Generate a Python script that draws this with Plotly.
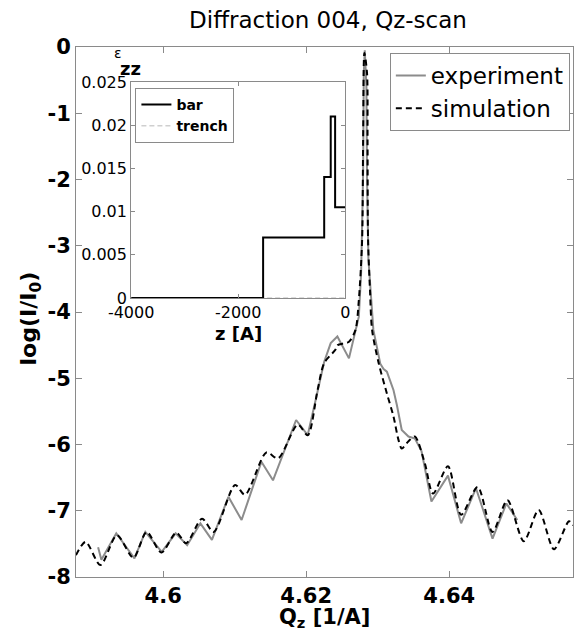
import plotly.graph_objects as go

# ---- main chart data ----
sim_q = [4.58782, 4.58916, 4.59124, 4.59354, 4.59585, 4.59769, 4.59976, 4.60184,
         4.60322, 4.60544, 4.60706, 4.61006, 4.61145, 4.61444, 4.61606, 4.61882,
         4.62021, 4.62159, 4.62252, 4.62408, 4.62436, 4.62598, 4.62689, 4.62736,
         4.62782, 4.62796, 4.62814, 4.62851, 4.62858, 4.62865, 4.62893, 4.62921,
         4.63013, 4.63128, 4.63221, 4.63290, 4.63336, 4.63430, 4.63520, 4.63658,
         4.63774, 4.63982, 4.64166, 4.64397, 4.64605, 4.64813, 4.65042, 4.65250,
         4.65464, 4.65675, 4.65744]
sim_log = [-7.67, -7.47, -7.82, -7.37, -7.71, -7.32, -7.63, -7.33,
           -7.49, -7.12, -7.32, -6.61, -6.76, -6.12, -6.21, -5.70,
           -5.86, -5.18, -4.77, -4.57, -4.50, -4.45, -4.27, -3.82,
           -2.91, -1.40, -0.09, -0.40, -1.40, -2.90, -3.70, -4.27,
           -4.77, -5.23, -5.58, -5.93, -6.06, -5.95, -5.88, -6.28,
           -6.74, -6.33, -7.06, -6.64, -7.32, -6.84, -7.46, -6.99,
           -7.58, -7.16, -7.23]

exp_q = [4.59091, 4.59137, 4.59345, 4.59599, 4.59751, 4.59981, 4.60175, 4.60336,
         4.60521, 4.60682, 4.60913, 4.61097, 4.61374, 4.61536, 4.61859, 4.62021,
         4.62159, 4.62252, 4.62343, 4.62436, 4.62598, 4.62644, 4.62736, 4.62768,
         4.62796, 4.62805, 4.62819, 4.62842, 4.62851, 4.62870, 4.62911, 4.62939,
         4.63036, 4.63082, 4.63128, 4.63221, 4.63267, 4.63336, 4.63430, 4.63520,
         4.63612, 4.63705, 4.63751, 4.63982, 4.64166, 4.64374, 4.64605, 4.64799,
         4.64951]
exp_log = [-7.55, -7.74, -7.34, -7.72, -7.32, -7.62, -7.34, -7.52,
           -7.19, -7.44, -6.79, -7.14, -6.26, -6.54, -5.63, -5.86,
           -5.20, -4.75, -4.47, -4.37, -4.70, -4.50, -4.07, -3.41,
           -1.90, -0.40, -0.05, -0.60, -2.00, -3.20, -3.90, -4.27,
           -4.78, -4.86, -4.90, -5.18, -5.40, -5.78, -5.88, -5.91,
           -6.10, -6.60, -6.86, -6.47, -7.19, -6.66, -7.42, -6.89,
           -7.14]

main_xticks = [4.6, 4.62, 4.64]
main_xticktext = ["4.6", "4.62", "4.64"]
main_yticks = [0, -1, -2, -3, -4, -5, -6, -7, -8]
main_yticktext = ["0", "-1", "-2", "-3", "-4", "-5", "-6", "-7", "-8"]

# ---- inset data ----
bar_z = [-4000, -1535, -394, -272, -190, 0]
bar_eps = [0, 0.007, 0.014, 0.021, 0.0105, 0.0105]
trench_z = [-4000, 0]
trench_eps = [0, 0]

inset_xticks = [-4000, -2000, 0]
inset_xticktext = ["-4000", "-2000", "0"]
inset_yticks = [0, 0.005, 0.01, 0.015, 0.02, 0.025]
inset_yticktext = ["0", "0.005", "0.01", "0.015", "0.02", "0.025"]

FONT = "DejaVu Sans"
AX = "#8a8a8a"

fig = go.Figure()
fig.add_trace(go.Scatter(x=exp_q, y=exp_log, mode="lines", name="experiment",
                         line=dict(color="#8c8c8c", width=2)))
fig.add_trace(go.Scatter(x=sim_q, y=sim_log, mode="lines", name="simulation",
                         line=dict(color="black", width=2, dash="6px,4px",
                                   shape="spline", smoothing=0.8)))
fig.add_trace(go.Scatter(x=trench_z, y=trench_eps, mode="lines", name="trench",
                         xaxis="x2", yaxis="y2", legend="legend2",
                         line=dict(color="#cfcfcf", width=1.5, dash="5px,3px")))
fig.add_trace(go.Scatter(x=bar_z, y=bar_eps, mode="lines", name="bar",
                         xaxis="x2", yaxis="y2", legend="legend2",
                         line=dict(color="black", width=2, shape="hv")))

W, H = 579, 632
L, R, T, B = 76, 1, 47, 55
pw, ph = W - L - R, H - T - B


def px(x):
    return (x - L) / pw


def py(y):
    return (H - B - y) / ph


fig.update_layout(
    width=W, height=H,
    margin=dict(l=L, r=R, t=T, b=B),
    paper_bgcolor="white", plot_bgcolor="white",
    font=dict(family=FONT, color="black"),
    showlegend=True,
    title=dict(text="Diffraction 004, Qz-scan", x=328 / W, xanchor="center",
               y=1 - 20 / H, yanchor="middle", yref="container",
               font=dict(size=23, family=FONT, color="black")),
    xaxis=dict(domain=[0, 1], range=[4.58782, 4.6573], tickvals=main_xticks,
               ticktext=main_xticktext, ticks="inside", ticklen=6, tickcolor=AX,
               showline=True, linecolor=AX, linewidth=1, mirror="ticks",
               showgrid=False, zeroline=False,
               tickfont=dict(size=21, family=FONT, weight="bold")),
    yaxis=dict(domain=[0, 1], range=[-8, 0], tickvals=main_yticks,
               ticktext=main_yticktext, ticks="inside", ticklen=6, tickcolor=AX,
               showline=True, linecolor=AX, linewidth=1, mirror="ticks",
               showgrid=False, zeroline=False,
               tickfont=dict(size=21, family=FONT, weight="bold")),
    xaxis2=dict(domain=[px(131.7), px(348)], anchor="y2", range=[-4000, 0],
                tickvals=inset_xticks, ticktext=inset_xticktext,
                ticks="inside", ticklen=4, tickcolor=AX, showline=True,
                linecolor=AX, linewidth=1, mirror="ticks", showgrid=False,
                zeroline=False, tickfont=dict(size=16, family=FONT)),
    yaxis2=dict(domain=[py(298), py(82)], anchor="x2", range=[0, 0.025],
                tickvals=inset_yticks, ticktext=inset_yticktext,
                ticks="inside", ticklen=4, tickcolor=AX, showline=True,
                linecolor=AX, linewidth=1, mirror="ticks", showgrid=False,
                zeroline=False, tickfont=dict(size=16, family=FONT)),
    legend=dict(x=px(393), y=py(53), xanchor="left", yanchor="top",
                bgcolor="white", bordercolor=AX, borderwidth=1,
                font=dict(size=23, family=FONT), traceorder="normal",
                itemwidth=30, tracegroupgap=0),
    legend2=dict(x=px(136), y=py(88), xanchor="left", yanchor="top",
                 bgcolor="white", bordercolor=AX, borderwidth=1,
                 font=dict(size=14, family=FONT, weight="bold"),
                 traceorder="reversed", itemwidth=30),
)

ann = dict(xref="paper", yref="paper", showarrow=False,
           xanchor="center", yanchor="middle")
fig.add_annotation(text="log(I/I<sub>0</sub>)", textangle=-90,
                   x=px(30), y=py(318),
                   font=dict(size=22, family=FONT, weight="bold"), **ann)
fig.add_annotation(text="Q<sub>z</sub> [1/A]", x=px(327), y=py(618),
                   font=dict(size=21, family=FONT, weight="bold"), **ann)
fig.add_annotation(text="z [A]", x=px(240), y=py(333),
                   font=dict(size=18, family=FONT, weight="bold"), **ann)
fig.add_annotation(text="ε", x=px(118), y=py(53),
                   font=dict(size=14, family=FONT), **ann)
fig.add_annotation(text="zz", x=px(131), y=py(68),
                   font=dict(size=18, family=FONT, weight="bold"), **ann)

fig.write_html("out.html", config={"displayModeBar": False},
               post_script="document.body.style.margin='0px';"
                           "document.body.style.overflow='hidden';")
